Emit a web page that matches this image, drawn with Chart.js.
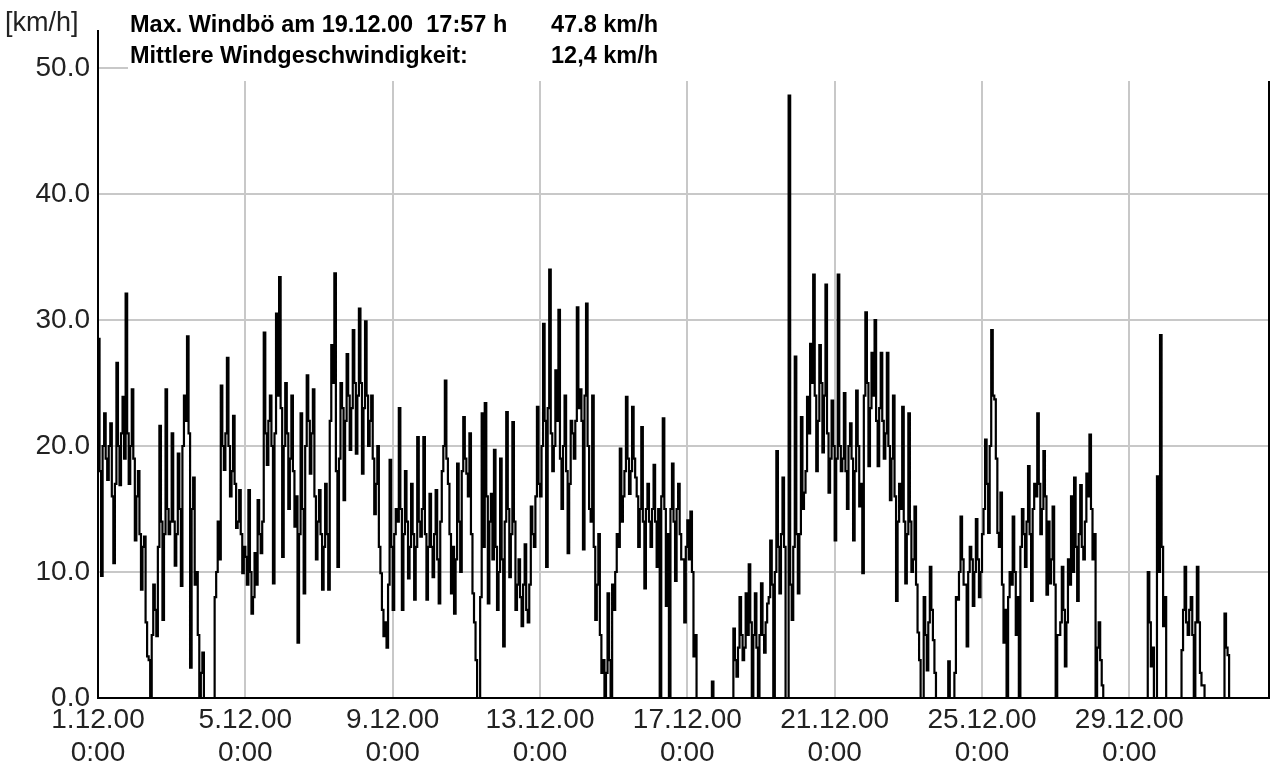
<!DOCTYPE html>
<html>
<head>
<meta charset="utf-8">
<script src="https://cdn.jsdelivr.net/npm/chart.js@4.4.1/dist/chart.umd.min.js"></script>
<style>
  html, body { margin: 0; padding: 0; background: #fff; }
  #wrap { width: 1279px; height: 776px; }
</style>
</head>
<body>
<div id="wrap"><canvas id="windChart"></canvas></div>
<script>
// hourly readings starting 1.12.00 0:00 (km/h), one row per day
const STEP_HOURS = 1;
const windSpeed = [
  28.5,18, 9.7,20, 22.6,19, 17.3,20, 21.8,16, 10.7,17, 26.6,20, 16.9,21, 23.9,19, 32.1,21, 17,20, 24.5,19,
  12.5,16, 18,13, 8.6,12, 12.8,6, 3.3,3, 0,5, 9,7, 4.9,12, 21.6,14, 6.2,13, 24.5,15, 13,14,
  21,14, 10.5,13, 19.4,15, 8.9,20, 24,22, 28.7,21, 2.4,15, 17.5,9, 10,5, 0,2, 3.6,0, 0,0,
  0,0, 0,0, 8,10, 14,11, 24.8,20, 18.1,21, 27,20, 16,18, 22.4,17, 13.5,14, 16.5,13, 9.9,12,
  11.2,9, 16.5,10, 6.7,8, 11.5,9, 15.7,13, 11.5,14, 29,21, 18.5,22, 24,20, 9.1,21, 30.5,24, 33.4,23,
  11.2,20, 25,21, 15,19, 24,18, 13.6,16, 4.4,13, 22.6,15, 8.3,20, 25.6,22, 17.8,21, 24.5,16, 11,14,
  16.5,13, 8.6,12, 17,13, 8.6,22, 28,25, 33.7,18, 10.4,19, 25,23, 15.7,22, 27.3,24, 19.7,23, 29.2,25,
  19.4,24, 30.9,25, 17.8,23, 29.9,24, 20,22, 24,19, 14.6,17, 20,12, 9.9,7, 4.9,6, 4,9, 18.9,12,
  7,13, 15,14, 23,15, 7,13, 18,14, 9.5,12, 17,13, 7.8,12, 20.7,14, 12.8,15, 20.7,13, 7.8,12,
  16.2,12, 9.6,13, 16.5,11, 7.5,14, 18,20, 25.2,19, 17,13, 8.3,12, 6.7,11, 18.6,14, 10,18, 22.3,19,
  17.8,16, 21,13, 8.3,6, 3,0, 0,8, 22.6,12, 23.4,16, 7.5,14, 16.2,11, 19.7,12, 7,10, 19,11,
  4.1,14, 22.7,15, 9.6,13, 21.9,14, 7,9, 11,8, 5.7,9, 12.2,7, 6,9, 15.2,13, 12,16, 23.1,17,
  16,20, 29.7,22, 10.4,23, 34,21, 18,20, 26,22, 30.8,19, 15,20, 24,18, 11.5,17, 22,21, 19,22,
  31,23, 24.5,22, 11.8,24, 31.3,20, 15,14, 24,12, 6.2,9, 13,5, 2,3, 0,2, 8.3,3, 0,9,
  7,10, 13,12, 19.8,14, 16,18, 23.9,19, 16.2,18, 23.1,19, 17.5,16, 12,15, 21.5,14, 8.7,15, 17,14,
  12,15, 18.5,14, 10.4,15, 0,16, 22.2,15, 7.3,13, 0,15, 18.6,14, 9.3,15, 17,13, 11,11, 6,12,
  14.1,11, 14.8,10, 3.3,5, 0,0, 0,0, 0,0, 0,0, 0,0, 1.3,0, 0,0, 0,0, 0,0,
  0,0, 0,0, 0,0, 5.5,3, 1.7,4, 8,5, 3,4, 8.3,5, 10.6,6, 0,5, 8.3,4, 0,5,
  9.1,5, 3.6,6, 7.5,8, 12.5,9, 0,10, 19.6,12, 8.3,13, 17.5,12, 0,0, 47.8,9, 6.2,12, 27.1,13,
  8.3,13, 22.3,15, 16.3,18, 23.9,21, 28.1,25, 33.6,24, 18,22, 28,25, 19.5,24, 32.8,21, 16.3,19, 23.6,20,
  12.5,19, 33.6,20, 18,19, 24.2,18, 15,20, 21.8,19, 12.5,18, 24.4,20, 15.2,17, 9.9,24, 30.6,25, 18.4,23,
  27.4,24, 30,22, 18.4,23, 27.4,22, 19,21, 27.4,20, 15.7,19, 24,16, 7.7,14, 17,15, 23.1,14, 9.1,13,
  22.6,14, 10,11, 15.2,9, 5.2,3, 0,0, 8,5, 2.2,6, 10.4,7, 4.6,2, 0,0, 0,0, 0,0,
  0,0, 2.9,0, 0,0, 2,8, 7.8,10, 14.4,11, 9,9, 4.1,10, 12,11, 7.3,10, 14.2,11, 8,10,
  13,15, 20.5,17, 13.1,20, 29.2,24, 23.7,19, 13.1,12, 16.3,9, 4.4,7, 0,8, 10,9, 14.4,10, 5,8,
  0,12, 15,13, 10.4,14, 18.4,13, 7.7,15, 17,16, 22.6,17, 13,15, 19.6,16, 8.2,14, 9.1,11, 15.2,9,
  0,5, 5,6, 10.4,7, 2.5,6, 11,9, 16,10, 17.5,12, 7.7,13, 16.9,12, 11,14, 17.8,16, 20.9,15,
  11,13, 0,4, 6,3, 1,0, 0,0, 0,0, 0,0, 0,0, 0,0, 0,0, 0,0, 0,0,
  0,0, 0,0, 0,0, 0,0, 0,0, 0,0, 10,6, 2.5,4, 0,0, 17.6,10, 28.8,12, 5.7,8,
  0,0, 0,0, 0,0, 0,0, 0,0, 3.8,7, 10.4,6, 5,7, 8,5, 0,6, 10.4,6, 2,1,
  1,0, 0,0, 0,0, 0,0, 0,0, 0,0, 0,0, 6.7,4, 3.4,0, 0,0, 0,0, 0,0,
  0,0, 0,0, 0,0, 0,0, 0,0, 0,0, 0,0, 0,0, 0,0, 0,0
];

const tickHours = [0, 96, 192, 288, 384, 480, 576, 672];
const tickDates = ["1.12.00", "5.12.00", "9.12.00", "13.12.00", "17.12.00", "21.12.00", "25.12.00", "29.12.00"];
const tickTimes = ["0:00", "0:00", "0:00", "0:00", "0:00", "0:00", "0:00", "0:00"];
const yTicks = [0, 10, 20, 30, 40, 50];
const X_MAX = 763;

const unitLabel = "[km/h]";
const headerLeft = ["Max. Windbö am 19.12.00  17:57 h", "Mittlere Windgeschwindigkeit:"];
const headerRight = ["47.8 km/h", "12,4 km/h"];

const FONT = "'Liberation Sans', Arial, sans-serif";

const points = windSpeed.map((v, i) => ({ x: i * STEP_HOURS, y: v }));

// header panel, unit label and the frame pieces the scales don't draw
const headerPlugin = {
  id: "header",
  afterDraw(chart) {
    const ctx = chart.ctx;
    const area = chart.chartArea;
    ctx.save();
    ctx.fillStyle = "#fff";
    ctx.fillRect(128, 0, chart.width - 128, 81);

    ctx.strokeStyle = "#000";
    ctx.lineWidth = 2;
    ctx.beginPath();
    ctx.moveTo(area.left, 30);
    ctx.lineTo(area.left, area.top);
    ctx.moveTo(area.right, 81);
    ctx.lineTo(area.right, area.bottom);
    ctx.stroke();

    ctx.fillStyle = "#222";
    ctx.font = "27px " + FONT;
    ctx.textBaseline = "alphabetic";
    ctx.fillText(unitLabel, 5, 31);

    ctx.fillStyle = "#000";
    ctx.font = "bold 23.5px " + FONT;
    ctx.fillText(headerLeft[0], 130, 31.5);
    ctx.fillText(headerLeft[1], 130, 62.5);
    ctx.fillText(headerRight[0], 551, 31.5);
    ctx.fillText(headerRight[1], 551, 62.5);
    ctx.restore();
  }
};

const data = {
  datasets: [
    {
      label: "Wind",
      data: points,
      borderColor: "#000",
      borderWidth: 2.2,
      pointRadius: 0,
      stepped: true,
      fill: false
    }
  ]
};

const config = {
  type: "line",
  data: data,
  options: {
    responsive: true,
    maintainAspectRatio: false,
    animation: false,
    layout: { padding: { top: 68, right: 10, left: 0, bottom: 0 } },
    plugins: {
      legend: { display: false },
      tooltip: { enabled: false }
    },
    scales: {
      x: {
        type: "linear",
        min: 0,
        max: X_MAX,
        afterBuildTicks: (s) => { s.ticks = tickHours.map((v) => ({ value: v })); },
        afterFit: (s) => { s.height = 78; },
        grid: { color: "#c8c8c8", lineWidth: 2, drawTicks: false },
        border: { color: "#000", width: 2 },
        ticks: {
          padding: 5,
          maxRotation: 0,
          autoSkip: false,
          color: "#222",
          font: { family: FONT, size: 28 },
          callback: (v) => {
            const i = tickHours.indexOf(v);
            return i < 0 ? "" : [tickDates[i], tickTimes[i]];
          }
        }
      },
      y: {
        min: 0,
        max: 50,
        afterBuildTicks: (s) => { s.ticks = yTicks.map((v) => ({ value: v })); },
        afterFit: (s) => { s.width = 98; },
        grid: { color: "#c8c8c8", lineWidth: 2, drawTicks: false },
        border: { color: "#000", width: 2 },
        ticks: {
          padding: 8,
          color: "#222",
          font: { family: FONT, size: 28 },
          callback: (v) => v.toFixed(1)
        }
      }
    }
  },
  plugins: [headerPlugin]
};

const ctx = document.getElementById("windChart");
let windChart = new Chart(ctx, config);
</script>
</body>
</html>
